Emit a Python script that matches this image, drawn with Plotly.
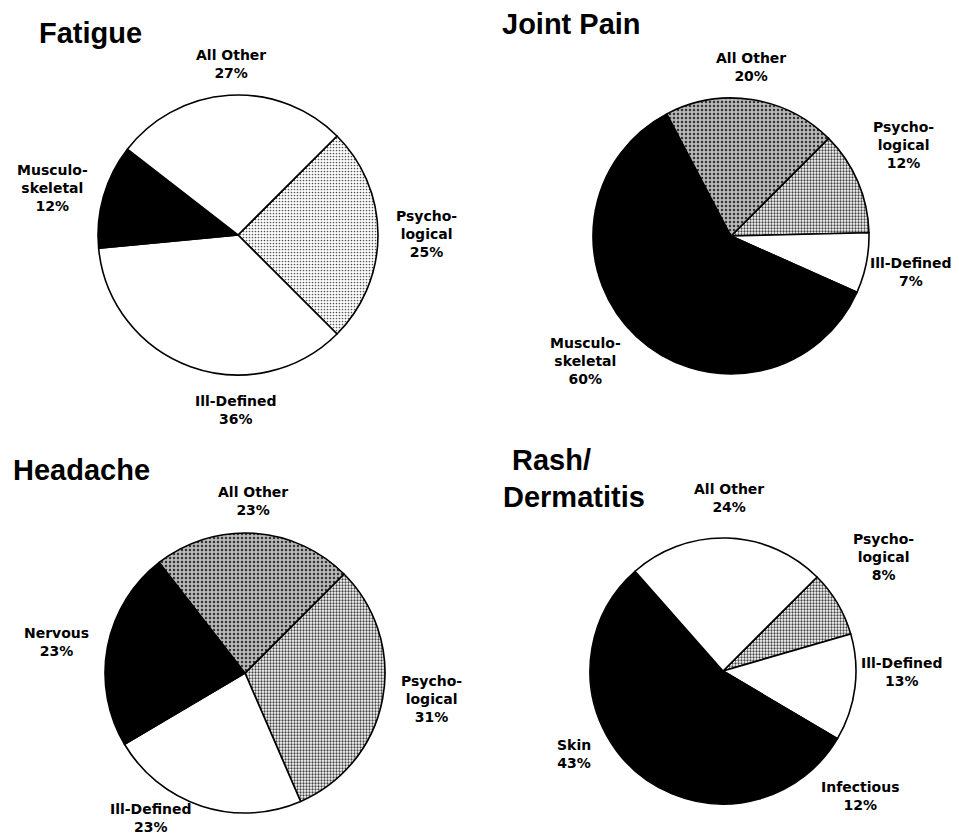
import plotly.graph_objects as go

W, H = 959, 836
OFF = 8  # page body margin of the html page

# data (clockwise, first slice starting at upper right)
fatigue_labels = ["Psycho-<br>logical", "Ill-Defined", "Musculo-<br>skeletal", "All Other"]
fatigue_values = [25, 36, 12, 27]

joint_labels = ["Psycho-<br>logical", "Ill-Defined", "Musculo-<br>skeletal", "All Other"]
joint_values = [12, 7, 60, 20]

headache_labels = ["Psycho-<br>logical", "Ill-Defined", "Nervous", "All Other"]
headache_values = [31, 23, 23, 23]

rash_labels = ["Psycho-<br>logical", "Ill-Defined", "Infectious", "Skin", "All Other"]
rash_values = [8, 13, 12, 43, 24]

title_lines = ["Fatigue", "Joint Pain", "Headache", "Rash/", "Dermatitis"]

# fill styles
WHITE = dict(color="white", shape="", fg="black", sol=0.0, size=4)
BLACK = dict(color="black", shape="", fg="black", sol=0.0, size=4)
LIGHT = dict(color="white", shape=".", fg="#555555", sol=0.25, size=3)
DENSE = dict(color="white", shape=".", fg="#444444", sol=0.45, size=3)
NOISY = dict(color="#b8b8b8", shape=".", fg="#333333", sol=0.3, size=4)

fatigue_fill = [LIGHT, WHITE, BLACK, WHITE]
joint_fill = [DENSE, WHITE, BLACK, NOISY]
headache_fill = [DENSE, WHITE, BLACK, NOISY]
rash_fill = [DENSE, WHITE, BLACK, BLACK, WHITE]

# pie placement (centre x, centre y, radius) in page pixels
pie_geom = [(238, 235, 140), (731, 236, 138), (245, 673, 140), (723, 671, 133)]

# label centres in page pixels, in slice order
label_pos = [
    [(426, 234), (236, 410), (52, 188), (231, 64)],
    [(903, 145), (911, 272), (585, 361), (751, 67)],
    [(431, 699), (151, 818), (56, 642), (253, 501)],
    [(883, 557), (902, 672), (860, 796), (574, 754), (729, 498)],
]

# title line anchors (left x, baseline y) in page pixels
title_pos = [(38, 43), (501, 34), (12, 480), (511, 470), (502, 507)]

LABEL_FONT = dict(family="DejaVu Sans", size=14, color="black", weight="bold")
TITLE_FONT = dict(family="Liberation Sans, Arial", size=29, color="black", weight="bold")


def px(x, y):
    return (x - OFF) / W, 1 - (y - OFF) / H


def domain(cx, cy, r):
    x0, y1 = px(cx - r, cy - r)
    x1, y0 = px(cx + r, cy + r)
    return dict(x=[x0, x1], y=[y0, y1])


def make_pie(labels, values, fills, dom):
    return go.Pie(
        labels=labels,
        values=values,
        sort=False,
        direction="clockwise",
        rotation=45,
        domain=dom,
        textinfo="none",
        marker=dict(
            colors=[f["color"] for f in fills],
            line=dict(color="black", width=1.6),
            pattern=dict(
                shape=[f["shape"] for f in fills],
                fgcolor=[f["fg"] for f in fills],
                bgcolor=[f["color"] for f in fills],
                solidity=[f["sol"] for f in fills],
                size=[f["size"] for f in fills],
            ),
        ),
        hoverinfo="skip",
        showlegend=False,
    )


charts = [
    (fatigue_labels, fatigue_values, fatigue_fill),
    (joint_labels, joint_values, joint_fill),
    (headache_labels, headache_values, headache_fill),
    (rash_labels, rash_values, rash_fill),
]

fig = go.Figure()
for (labels, values, fills), geom, positions in zip(charts, pie_geom, label_pos):
    fig.add_trace(make_pie(labels, values, fills, domain(*geom)))
    for lab, val, (lx, ly) in zip(labels, values, positions):
        x, y = px(lx, ly)
        fig.add_annotation(
            text=f"{lab}<br>{val}%",
            x=x, y=y, xref="paper", yref="paper",
            xanchor="center", yanchor="middle", align="center",
            showarrow=False, font=LABEL_FONT,
        )

# chart titles
for t, (tx, ty) in zip(title_lines, title_pos):
    x, y = px(tx, ty + 7)
    fig.add_annotation(
        text=t,
        x=x, y=y, xref="paper", yref="paper",
        xanchor="left", yanchor="bottom", align="left",
        showarrow=False, font=TITLE_FONT, borderpad=0,
    )

fig.update_layout(
    width=W,
    height=H,
    margin=dict(l=0, r=0, t=0, b=0),
    paper_bgcolor="white",
    plot_bgcolor="white",
    font=dict(family="Liberation Sans, Arial", color="black"),
)

fig.write_html("out.html")
